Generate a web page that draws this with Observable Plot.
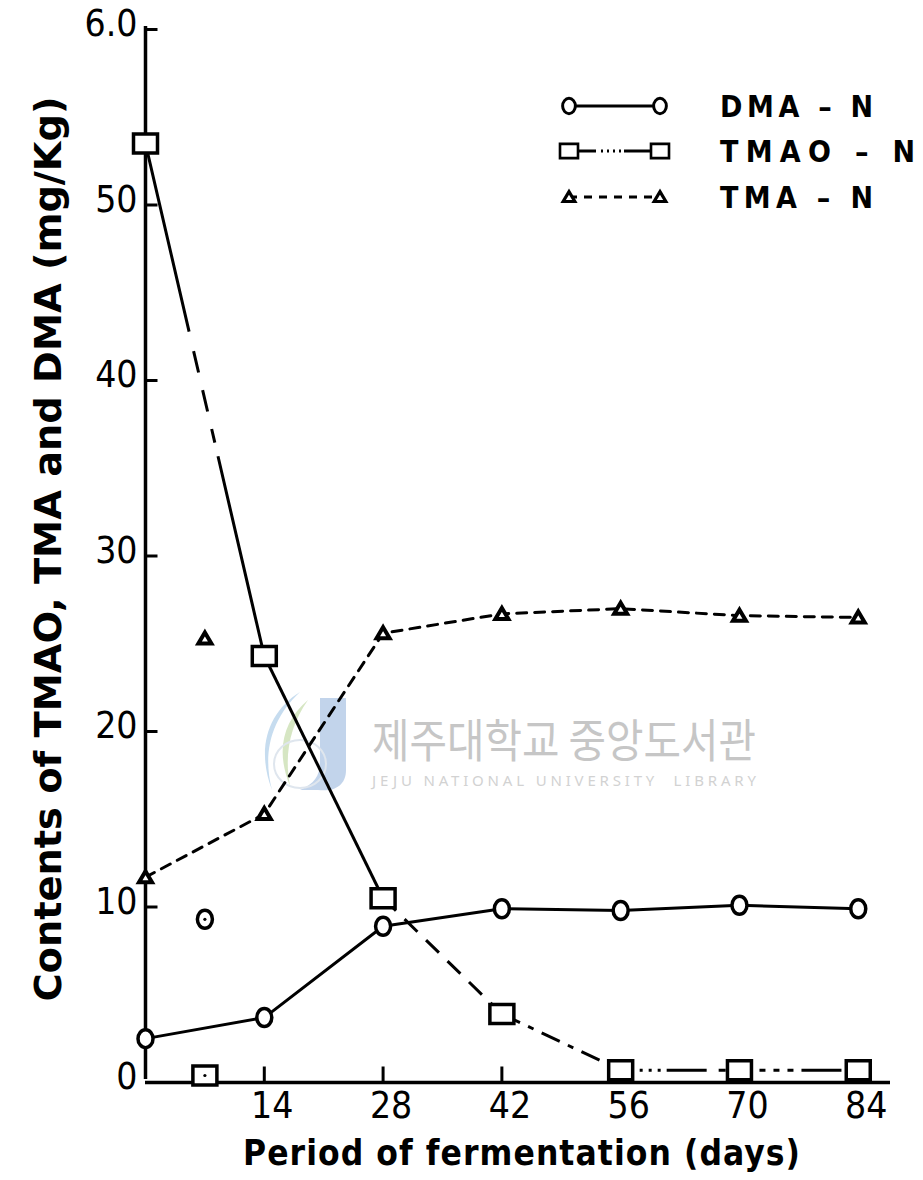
<!DOCTYPE html>
<html>
<head>
<meta charset="utf-8">
<script src="https://cdn.jsdelivr.net/npm/d3@7"></script>
<script src="https://cdn.jsdelivr.net/npm/@observablehq/plot@0.6"></script>
<style>
  html, body { margin: 0; padding: 0; background: #fff; }
  #chart svg { display: block; }
</style>
</head>
<body>
<div id="chart"></div>
<script>
// Amine contents (mg/Kg) during fermentation
const days = [0, 14, 28, 42, 56, 70, 84];
const dmaN = [2.5, 3.7, 8.9, 9.9, 9.8, 10.1, 9.9];
const tmaoN = [53.5, 24.3, 10.5, 3.9, 0.7, 0.7, 0.7];
const tmaN = [11.7, 15.3, 25.6, 26.7, 27.0, 26.6, 26.5];

// separate, unconnected readings on day 7
const day7 = [7];
const day7DMA = [9.3];
const day7TMAO = [0.4];
const day7TMA = [25.3];

const xTicks = [14, 28, 42, 56, 70, 84];
const yTicks = [0, 10, 20, 30, 40, 50, 60];
const yTickLabels = ["0", "10", "20", "30", "40", "50", "6.0"];
const seriesLabels = ["DMA – N", "TMAO – N", "TMA – N"];
const xTitle = "Period of fermentation (days)";
const yTitle = "Contents of TMAO, TMA and DMA (mg/Kg)";
const watermarkKo = "제주대학교 중앙도서관";
const watermarkEn = "JEJU NATIONAL UNIVERSITY  LIBRARY";
const xDomain = [0, 87.8];
const yDomain = [0, 60];

// ---- drawing helpers ----
const FONT = '"DejaVu Sans Condensed", "DejaVu Sans", sans-serif';
const INK = "#000";

const oval = {
  draw(c) {
    const rx = 7.5, ry = 9, k = 0.5523;
    c.moveTo(rx, 0);
    c.bezierCurveTo(rx, ry * k, rx * k, ry, 0, ry);
    c.bezierCurveTo(-rx * k, ry, -rx, ry * k, -rx, 0);
    c.bezierCurveTo(-rx, -ry * k, -rx * k, -ry, 0, -ry);
    c.bezierCurveTo(rx * k, -ry, rx, -ry * k, rx, 0);
    c.closePath();
  }
};
const box = { draw(c) { c.rect(-12, -9.5, 24, 19); } };
const tri = {
  draw(c) {
    c.moveTo(0, -6); c.lineTo(6.5, 5); c.lineTo(-6.5, 5); c.closePath();
  }
};
const xTickSym = { draw(c) { c.moveTo(0, 0); c.lineTo(0, -16); } };
const yTickSym = { draw(c) { c.moveTo(0, 0); c.lineTo(12, 0); } };

const rows = (vals) => days.map((d, i) => ({ day: d, v: vals[i] }));
const dmaRows = rows(dmaN), tmaoRows = rows(tmaoN), tmaRows = rows(tmaN);

// TMAO is drawn segment by segment, each with its own dash pattern
const tmaoSegments = days.slice(0, -1).map((d, i) => ({
  i, x1: d, y1: tmaoN[i], x2: days[i + 1], y2: tmaoN[i + 1]
}));
const tmaoDash = [
  "193,20,22,18,22,18,14,14,600",
  null,
  "18,12",
  "20,9,6,9",
  "12,7,3,6,3,6,3,6,40",
  "12,8,6,8,6,8,6,8,40"
];

const marks = [
  // axes
  Plot.ruleY([0], { x1: xDomain[0], x2: xDomain[1], stroke: INK, strokeWidth: 3.5 }),
  Plot.ruleX([0], { y1: yDomain[0], y2: yDomain[1], stroke: INK, strokeWidth: 3.5, dy: -3 }),
  Plot.dot(xTicks, { x: d => d, y: 0, symbol: xTickSym, fill: "none", stroke: INK, strokeWidth: 3 }),
  Plot.dot(yTicks.slice(1), { x: 0, y: d => d, symbol: yTickSym, fill: "none", stroke: INK, strokeWidth: 3 }),
  Plot.text(xTicks, {
    x: d => d, y: 0, text: d => String(d), dx: 8, dy: 24,
    fontSize: 37, fontFamily: FONT, fill: INK, letterSpacing: 1
  }),
  Plot.text(yTicks, {
    x: 0, y: d => d, text: (d, i) => yTickLabels[i], textAnchor: "end", dx: -8, dy: -5,
    fontSize: 37, fontFamily: FONT, fill: INK, letterSpacing: 1
  }),

  // lines
  Plot.line(dmaRows, { x: "day", y: "v", stroke: INK, strokeWidth: 3 }),
  Plot.line(tmaRows, { x: "day", y: "v", stroke: INK, strokeWidth: 3, strokeDasharray: "10,8" }),
  ...tmaoDash.map((dash, i) =>
    Plot.link(tmaoSegments.filter(s => s.i === i), {
      x1: "x1", y1: "y1", x2: "x2", y2: "y2",
      stroke: INK, strokeWidth: 3, strokeDasharray: dash, markerEnd: "none"
    })
  ),

  // markers
  Plot.dot(dmaRows, { x: "day", y: "v", symbol: oval, fill: "white", stroke: INK, strokeWidth: 3.5 }),
  Plot.dot(tmaoRows, { x: "day", y: "v", symbol: box, fill: "white", stroke: INK, strokeWidth: 3.5 }),
  Plot.dot(tmaRows, { x: "day", y: "v", symbol: tri, fill: "white", stroke: INK, strokeWidth: 4 }),

  // day-7 readings
  Plot.dot(day7, { x: d => d, y: (d, i) => day7DMA[i], symbol: oval, fill: "white", stroke: INK, strokeWidth: 3.5 }),
  Plot.dot(day7, { x: d => d, y: (d, i) => day7TMAO[i], symbol: box, fill: "white", stroke: INK, strokeWidth: 3.5 }),
  Plot.dot(day7, { x: d => d, y: (d, i) => day7TMA[i], symbol: tri, fill: "white", stroke: INK, strokeWidth: 4 }),
  Plot.dot(day7, { x: d => d, y: (d, i) => day7DMA[i], r: 1.6, fill: INK }),
  Plot.dot(day7, { x: d => d, y: (d, i) => day7TMAO[i], r: 1.6, fill: INK })
];

const chart = Plot.plot({
  width: 923,
  height: 1180,
  x: { domain: xDomain, range: [145, 890], axis: null },
  y: { domain: yDomain, range: [1082, 29], axis: null },
  style: { background: "#fff", overflow: "visible" },
  marks
});

const svg = d3.select(chart);

// library watermark behind the data
const wm = svg.insert("g", ":first-child").attr("class", "watermark").attr("text-anchor", "start");
wm.append("path")
  .attr("d", "M300,692 C268,712 256,748 272,790 C262,752 272,718 300,692 Z")
  .attr("fill", "#bcd6ec").attr("opacity", 0.85);
wm.append("path")
  .attr("d", "M308,700 C282,722 276,752 290,786 C284,754 290,726 308,700 Z")
  .attr("fill", "#cfe2b8").attr("opacity", 0.85);
wm.append("path")
  .attr("d", "M320,698 L346,698 L346,770 C346,786 334,792 318,790 L300,790 C314,784 320,776 320,762 Z")
  .attr("fill", "#b3c9e6").attr("opacity", 0.8);
wm.append("ellipse")
  .attr("cx", 300).attr("cy", 764).attr("rx", 26).attr("ry", 24)
  .attr("fill", "none").attr("stroke", "#dfe6ee").attr("stroke-width", 2);
wm.append("text")
  .attr("x", 372).attr("y", 757)
  .attr("font-family", '"Noto Sans CJK KR", sans-serif')
  .attr("font-size", 46).attr("fill", "#c6c6c6")
  .attr("textLength", 384).attr("lengthAdjust", "spacingAndGlyphs")
  .text(watermarkKo);
wm.append("text")
  .attr("x", 372).attr("y", 786)
  .attr("font-family", '"Noto Sans", sans-serif')
  .attr("font-size", 15).attr("fill", "#d2d2d2")
  .attr("textLength", 384).attr("lengthAdjust", "spacing")
  .text(watermarkEn);

// axis titles
svg.append("text")
  .attr("transform", "translate(61,549) rotate(-90)")
  .attr("text-anchor", "middle")
  .attr("font-family", FONT).attr("font-size", 38).attr("font-weight", "bold")
  .attr("textLength", 905).attr("lengthAdjust", "spacingAndGlyphs")
  .attr("fill", INK)
  .text(yTitle);
svg.append("text")
  .attr("x", 243).attr("y", 1165)
  .attr("text-anchor", "start")
  .attr("font-family", FONT).attr("font-size", 35).attr("font-weight", "bold")
  .attr("textLength", 557).attr("lengthAdjust", "spacing")
  .attr("fill", INK)
  .text(xTitle);

// legend
const legendSymbols = [oval, box, tri];
const legendScale = [0.85, 0.75, 0.9];
const legendDash = [null, "dotted", "8,7"];
const legendRowsY = [106, 151, 197];
const legendTextLen = [153, 195, 153];
const lg = svg.append("g").attr("class", "legend").attr("text-anchor", "start");
seriesLabels.forEach((label, i) => {
  const y = legendRowsY[i];
  const g = lg.append("g");
  if (legendDash[i] === "dotted") {
    g.append("path").attr("d", `M572,${y} H596`).attr("stroke", INK).attr("stroke-width", 3);
    g.append("path").attr("d", `M601,${y} H621`).attr("stroke", INK).attr("stroke-width", 3).attr("stroke-dasharray", "2,4");
    g.append("path").attr("d", `M624,${y} H652`).attr("stroke", INK).attr("stroke-width", 3);
  } else {
    g.append("path").attr("d", `M569,${y} H660`).attr("stroke", INK).attr("stroke-width", 3)
      .attr("stroke-dasharray", legendDash[i]);
  }
  const sym = d3.symbol().type(legendSymbols[i])();
  [569, 660].forEach(x => {
    g.append("path").attr("d", sym).attr("transform", `translate(${x},${y}) scale(${legendScale[i]})`)
      .attr("fill", "white").attr("stroke", INK).attr("stroke-width", 3.5);
  });
  g.append("text")
    .attr("x", 720).attr("y", y + 11)
    .attr("text-anchor", "start")
    .attr("font-family", FONT).attr("font-size", 30).attr("font-weight", "bold")
    .attr("textLength", legendTextLen[i]).attr("lengthAdjust", "spacing")
    .attr("fill", INK)
    .text(label);
});

document.getElementById("chart").append(chart);
</script>
</body>
</html>
